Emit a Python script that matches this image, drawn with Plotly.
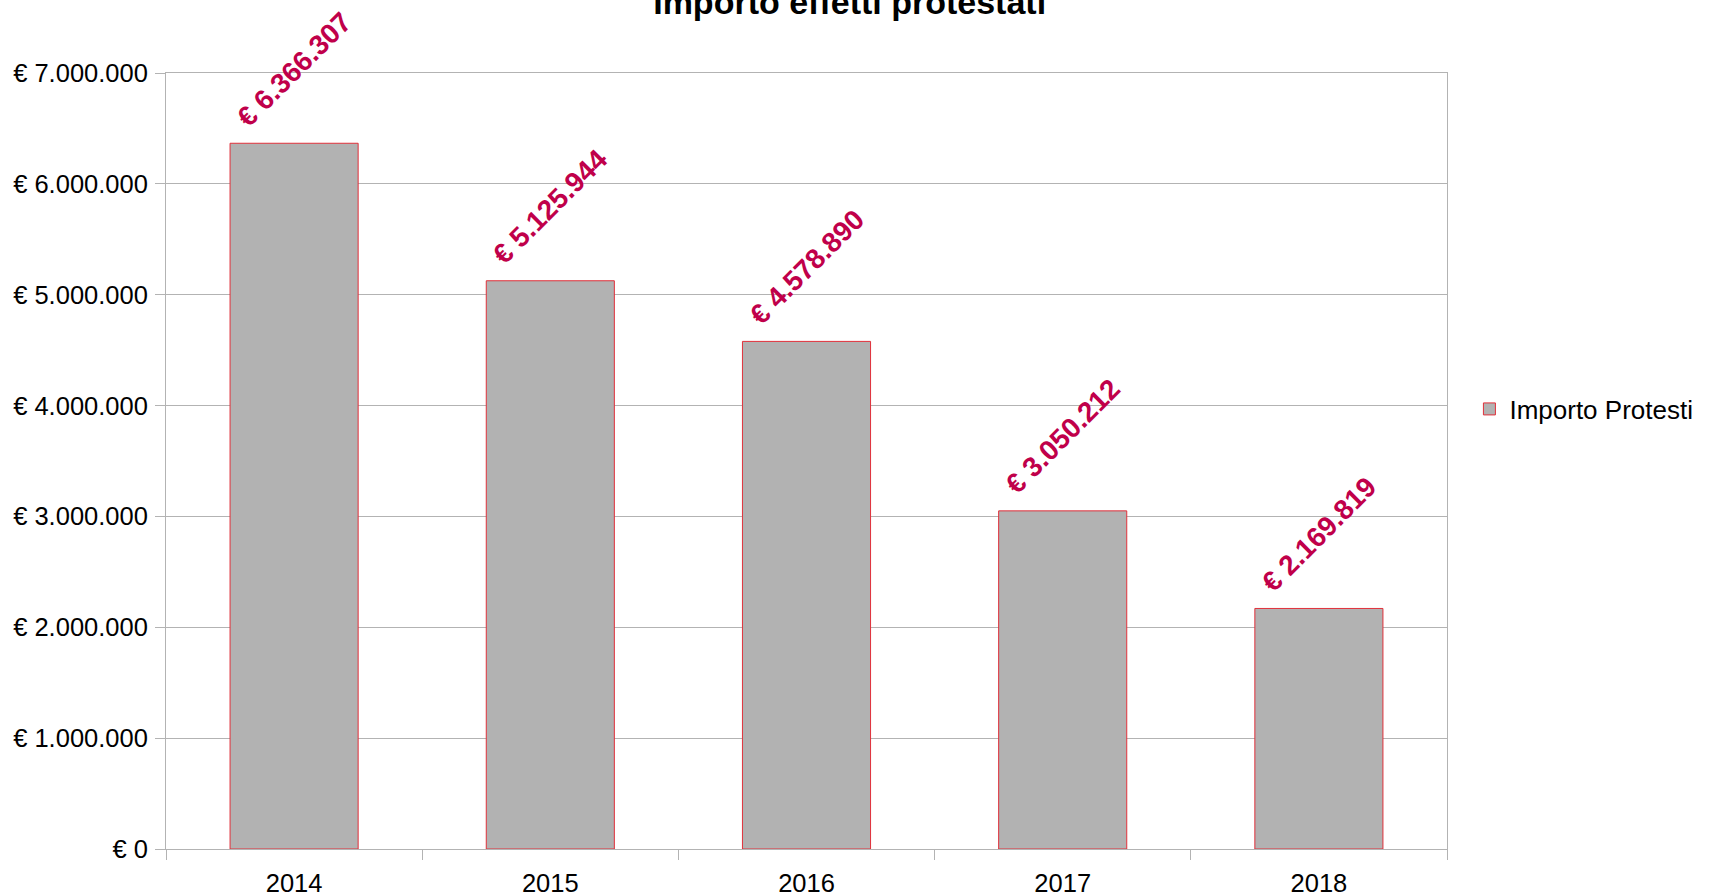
import plotly.graph_objects as go

years = ["2014", "2015", "2016", "2017", "2018"]
importi = [6366307, 5125944, 4578890, 3050212, 2169819]
y_ticks = [0, 1000000, 2000000, 3000000, 4000000, 5000000, 6000000, 7000000]


def eur(v):
    s = f"{v:,}".replace(",", ".")
    return f"€ {s}"


y_labels = [eur(v) for v in y_ticks]
FONT = "Liberation Sans, Arial, sans-serif"

fig = go.Figure()
fig.add_trace(go.Bar(
    x=years, y=importi, name="Importo Protesti",
    marker=dict(color="#b2b2b2", line=dict(color="#e0303a", width=1)),
    width=0.5,
))

# category axis: annotations use the category's serial index
for i, v in enumerate(importi):
    fig.add_annotation(
        x=i, y=v, text=eur(v), textangle=-45, showarrow=False,
        xanchor="center", yanchor="bottom", yshift=8,
        font=dict(family=FONT, size=28, color="#c0004a", weight="bold"),
    )

fig.update_layout(
    width=1713, height=896,
    margin=dict(l=166, r=266, t=73, b=47),
    paper_bgcolor="white", plot_bgcolor="white",
    font=dict(family=FONT, size=25.5, color="black"),
    title=dict(text="<b>Importo effetti protestati</b>", x=0.496, xanchor="center",
               yref="container", y=0.998, yanchor="middle",
               font=dict(family=FONT, size=34, color="black")),
    showlegend=True,
    legend=dict(x=1.0175, y=0.567, xanchor="left", yanchor="middle",
                font=dict(family=FONT, size=26, color="black"),
                bgcolor="rgba(0,0,0,0)"),
    bargap=0.5,
)
fig.update_xaxes(
    type="category", automargin=False, tickangle=0, ticklabelstandoff=11,
    categoryorder="array", categoryarray=years, range=[-0.5, len(years) - 0.5],
    showline=True, linecolor="#b3b3b3", linewidth=1, mirror=True,
    ticks="outside", ticklen=10, tickcolor="#b3b3b3", tickson="boundaries",
    showgrid=False,
)
fig.update_yaxes(
    automargin=False, ticklabelstandoff=2,
    range=[0, 7000000], tickvals=y_ticks, ticktext=y_labels,
    showline=True, linecolor="#b3b3b3", linewidth=1, mirror=True,
    ticks="outside", ticklen=10, tickcolor="#b3b3b3",
    showgrid=True, gridcolor="#b3b3b3", gridwidth=1, zeroline=False,
)

fig.write_html("out.html")
